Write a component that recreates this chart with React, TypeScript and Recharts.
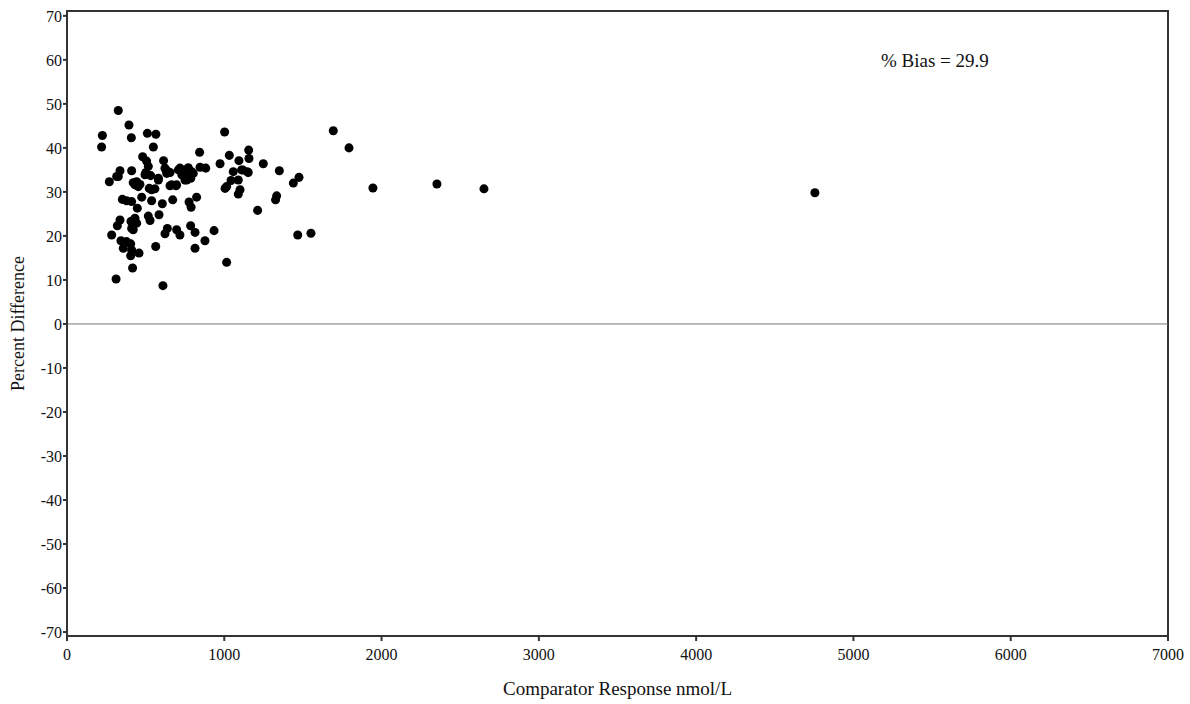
import { ScatterChart, Scatter, XAxis, YAxis, ReferenceLine, ReferenceDot, ReferenceArea } from 'recharts';

// Comparator response (nmol/L) and percent difference
const comparator = [
  326, 394, 225, 409, 511, 565, 220, 549, 1002, 843,
  481, 506, 517, 614, 1032, 1155, 1157, 1093, 973, 337,
  411, 326, 269, 502, 532, 581, 629, 655, 708, 740,
  772, 793, 730, 762, 787, 750, 846, 882, 1057, 1117,
  1146, 1043, 1089, 421, 443, 453, 432, 464, 523, 559,
  538, 655, 693, 1005, 1015, 1100, 1089, 352, 379, 411,
  475, 447, 538, 606, 672, 776, 789, 824, 1212, 337,
  320, 407, 432, 421, 443, 411, 421, 517, 528, 585,
  284, 343, 379, 405, 358, 411, 405, 458, 417, 564,
  638, 623, 697, 718, 786, 814, 877, 935, 814, 312,
  610, 1015, 1693, 1248, 1350, 1475, 1439, 1333, 1326, 1467,
  1551, 1793, 1945, 2352, 2651, 4755, 316, 1110, 1152, 496,
  623, 644, 634, 718, 771, 803, 761, 581, 665, 697,
];
const percentDiff = [
  48.5, 45.2, 42.8, 42.3, 43.3, 43.1, 40.2, 40.2, 43.6, 39.0,
  38.0, 37.0, 35.8, 37.1, 38.3, 39.5, 37.6, 37.1, 36.4, 34.8,
  34.8, 33.5, 32.3, 34.4, 33.7, 33.1, 35.0, 34.4, 35.0, 35.0,
  35.2, 34.6, 33.9, 34.2, 33.1, 32.7, 35.6, 35.4, 34.6, 35.0,
  34.6, 32.6, 32.7, 32.1, 32.3, 31.2, 31.6, 31.7, 30.8, 30.7,
  30.5, 31.4, 31.4, 30.8, 31.2, 30.5, 29.5, 28.3, 28.0, 27.8,
  28.8, 26.3, 28.0, 27.3, 28.2, 27.7, 26.5, 28.8, 25.8, 23.6,
  22.3, 23.3, 24.0, 22.5, 22.9, 21.7, 21.4, 24.5, 23.5, 24.8,
  20.2, 18.9, 18.7, 18.2, 17.2, 16.8, 15.5, 16.1, 12.7, 17.6,
  21.7, 20.5, 21.4, 20.2, 22.3, 20.8, 18.9, 21.2, 17.2, 10.2,
  8.7, 14.0, 43.9, 36.4, 34.8, 33.3, 32.0, 29.1, 28.2, 20.2,
  20.6, 40.0, 30.9, 31.8, 30.7, 29.8, 33.5, 35.0, 34.4, 33.9,
  35.4, 34.6, 34.2, 35.4, 35.5, 34.2, 32.7, 32.7, 31.6, 31.6,
];

const xTicks = [0, 1000, 2000, 3000, 4000, 5000, 6000, 7000];
const yTicks = [-70, -60, -50, -40, -30, -20, -10, 0, 10, 20, 30, 40, 50, 60, 70];
const xDomain = [0, 7000];
const yDomain = [-70.9, 71.1];
const biasLabel = '% Bias = 29.9';

const data = comparator.map((x, i) => ({ x, y: percentDiff[i] }));

const font = '"Liberation Serif", "Times New Roman", serif';
const textColor = '#111';
const axisColor = '#333';

export default function App() {
  return (
    <div style={{ position: 'absolute', left: 0, top: 0, background: '#fff' }}>
      <ScatterChart width={1190} height={704} margin={{ top: 11, right: 22, bottom: 0, left: 0 }}>
        <XAxis
          type="number"
          dataKey="x"
          domain={xDomain}
          ticks={xTicks}
          allowDataOverflow
          height={68}
          stroke={axisColor}
          strokeWidth={2}
          tickSize={5}
          tickMargin={8}
          tick={{ fill: textColor, fontSize: 16, fontFamily: font }}
          label={{
            value: 'Comparator Response nmol/L',
            position: 'insideBottom',
            offset: 9,
            fill: textColor,
            fontSize: 19,
            fontFamily: font,
          }}
        />
        <YAxis
          type="number"
          dataKey="y"
          domain={yDomain}
          ticks={yTicks}
          allowDataOverflow
          width={67}
          stroke={axisColor}
          strokeWidth={2}
          tickSize={4}
          tickMargin={1}
          tick={{ fill: textColor, fontSize: 16, fontFamily: font }}
          label={{
            value: 'Percent Difference',
            angle: -90,
            position: 'insideLeft',
            offset: 18,
            style: { textAnchor: 'middle' },
            fill: textColor,
            fontSize: 18,
            fontFamily: font,
          }}
        />
        <ReferenceArea
          x1={xDomain[0]}
          x2={xDomain[1]}
          y1={yDomain[0]}
          y2={yDomain[1]}
          fill="none"
          stroke={axisColor}
          strokeWidth={2}
          ifOverflow="extendDomain"
        />
        <ReferenceLine y={0} stroke="#777" strokeWidth={1} />
        <ReferenceDot
          x={5518}
          y={59.8}
          r={0}
          fill="none"
          stroke="none"
          label={{ value: biasLabel, position: 'center', fill: textColor, fontSize: 19, fontFamily: font }}
        />
        <Scatter data={data} fill="#000" isAnimationActive={false} shape="circle" />
      </ScatterChart>
    </div>
  );
}
